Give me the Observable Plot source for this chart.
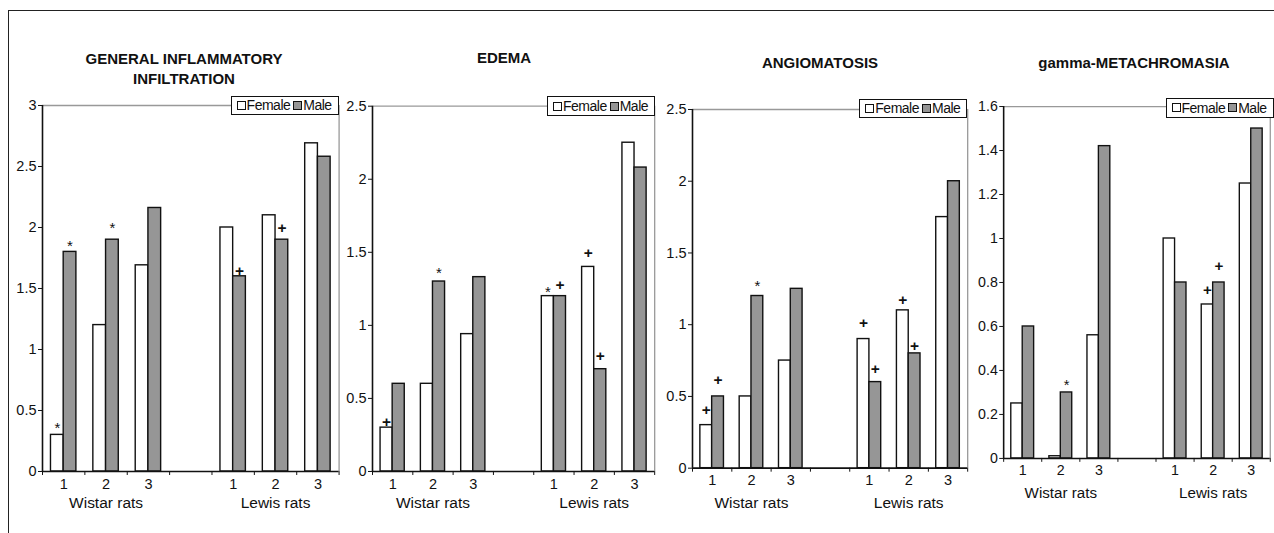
<!DOCTYPE html>
<html><head><meta charset="utf-8">
<script src="https://cdn.jsdelivr.net/npm/d3@7"></script>
<script src="https://cdn.jsdelivr.net/npm/@observablehq/plot@0.6"></script>
<style>
html,body{margin:0;padding:0;background:#fff;overflow:hidden;}
#fig{position:relative;width:1274px;height:533px;overflow:hidden;font-family:"Liberation Sans",Arial,sans-serif;color:#111;}
.frame{position:absolute;left:8px;top:10px;width:1300px;height:600px;border-top:1.5px solid #222;border-left:1.5px solid #222;}
.title{position:absolute;font-weight:bold;font-size:15px;text-align:center;line-height:20px;transform:translateX(-50%);white-space:nowrap;}
.legend{position:absolute;box-sizing:border-box;height:19.5px;border:1.6px solid #111;background:#fff;font-size:14px;letter-spacing:-0.5px;line-height:16px;white-space:nowrap;padding:0 3px 0 5px;display:flex;align-items:center;}
.sw{display:inline-block;box-sizing:border-box;width:9px;height:9px;border:1.3px solid #111;margin-right:1px;}
.panel{position:absolute;top:0;}
</style></head><body><div id="fig"><div class="frame"></div></div>
<script>
// ---------- data ----------
const slots = ["1","2","3","","1","2","3"];
const slotStrain = ["Wistar rats","Wistar rats","Wistar rats","","Lewis rats","Lewis rats","Lewis rats"];
const strains = ["Wistar rats","Lewis rats"];
const sexes = ["Female","Male"];
const titles = [["GENERAL INFLAMMATORY","INFILTRATION"],["EDEMA"],["ANGIOMATOSIS"],["gamma-METACHROMASIA"]];

const femaleGII   = [0.30,1.20,1.69,null,2.00,2.10,2.69];
const maleGII     = [1.80,1.90,2.16,null,1.60,1.90,2.58];
const femaleEdema = [0.30,0.60,0.94,null,1.20,1.40,2.25];
const maleEdema   = [0.60,1.30,1.33,null,1.20,0.70,2.08];
const femaleAngio = [0.30,0.50,0.75,null,0.90,1.10,1.75];
const maleAngio   = [0.50,1.20,1.25,null,0.60,0.80,2.00];
const femaleGamma = [0.25,0.01,0.56,null,1.00,0.70,1.25];
const maleGamma   = [0.60,0.30,1.42,null,0.80,0.80,1.50];

const ticksGII   = [0,0.5,1,1.5,2,2.5,3];
const ticksEdema = [0,0.5,1,1.5,2,2.5];
const ticksAngio = [0,0.5,1,1.5,2,2.5];
const ticksGamma = [0,0.2,0.4,0.6,0.8,1,1.2,1.4,1.6];

// significance symbols: [slot index, sex, symbol, level]
const signifGII   = [[0,"Female","*",0.39],[0,"Male","*",1.88],[1,"Male","*",2.03],[4,"Male","+",1.65],[5,"Male","+",2.00]];
const signifEdema = [[0,"Female","+",0.345],[1,"Male","*",1.39],[4,"Female","*",1.26],[4,"Male","+",1.28],[5,"Female","+",1.50],[5,"Male","+",0.80]];
const signifAngio = [[0,"Female","+",0.41],[0,"Male","+",0.62],[1,"Male","*",1.30],[4,"Female","+",1.02],[4,"Male","+",0.70],[5,"Female","+",1.18],[5,"Male","+",0.86]];
const signifGamma = [[1,"Male","*",0.353],[5,"Female","+",0.768],[5,"Male","+",0.879]];

// ---------- layout (pixels) ----------
const panels = [
  {female: femaleGII,   male: maleGII,   ticks: ticksGII,   signif: signifGII,   title: titles[0], left: 41.7,  right: 338.3,  top: 105,   zero: 471,   titleX: 184,  titleY: 49,   legTop: 95.5},
  {female: femaleEdema, male: maleEdema, ticks: ticksEdema, signif: signifEdema, title: titles[1], left: 372.3, right: 654.5,  top: 105.7, zero: 471,   titleX: 504,  titleY: 47.5, legTop: 96.3},
  {female: femaleAngio, male: maleAngio, ticks: ticksAngio, signif: signifAngio, title: titles[2], left: 691.7, right: 966.9,  top: 109,   zero: 467.7, titleX: 820,  titleY: 52.5, legTop: 98.5},
  {female: femaleGamma, male: maleGamma, ticks: ticksGamma, signif: signifGamma, title: titles[3], left: 1004.3,right: 1276.6, top: 108.3, zero: 467.7, titleX: 1134, titleY: 52.5, legTop: 98}
];
const legendRight = [338.6, 655, 967.3, 1273.5];
const strainLabelY = 502.7;

const FONT = '"Liberation Sans", Arial, sans-serif';
const fig = document.getElementById("fig");
const offset = {Female: 0.2, Male: 0.5};
const barW = 0.3;

panels.forEach((p, k) => {
  const bars = [];
  slots.forEach((s, i) => {
    if (s === "") return;
    bars.push({i, sex: "Female", v: p.female[i]});
    bars.push({i, sex: "Male", v: p.male[i]});
  });
  const labels = slots.map((s, i) => ({i, s})).filter(d => d.s !== "");
  const strainRows = strains.map(name => {
    const idx = slotStrain.map((st, i) => st === name ? i : -1).filter(i => i >= 0);
    return {name, c: d3.mean(idx) + 0.5};
  });
  const sig = p.signif.map(([i, sex, sym, lev]) => ({x: i + offset[sex] + barW / 2, sym, lev}));
  const ymax = p.ticks[p.ticks.length - 1];
  const mL = 40, mR = 4;
  const plotW = p.right - p.left;

  const chart = Plot.plot({
    width: mL + plotW + mR,
    height: 533,
    marginLeft: mL, marginRight: mR,
    marginTop: p.top, marginBottom: 533 - p.zero,
    style: {background: "transparent", overflow: "visible", fontFamily: FONT, fontSize: "14px", color: "#000"},
    x: {domain: [0, slots.length], axis: null},
    y: {domain: [0, ymax], axis: null},
    marks: [
      Plot.ruleY([ymax], {stroke: "#999", strokeWidth: 1.3}),
      Plot.ruleX([slots.length], {stroke: "#999", strokeWidth: 1.3}),
      Plot.rectY(bars, {
        x1: d => d.i + offset[d.sex], x2: d => d.i + offset[d.sex] + barW,
        y1: 0, y2: "v",
        fill: d => d.sex === "Female" ? "#ffffff" : "#969696",
        stroke: "#111", strokeWidth: 1.4
      }),
      Plot.axisY({ticks: p.ticks, tickSize: 4, tickPadding: 2, tickFormat: d => String(d), label: null, fontSize: 14.5, stroke: "#111", fill: "#111"}),
      Plot.axisX({ticks: d3.range(slots.length + 1), tickSize: 4, tickFormat: () => "", label: null, stroke: "#111"}),
      Plot.ruleX([0], {stroke: "#111", strokeWidth: 1.6}),
      Plot.ruleY([0], {stroke: "#111", strokeWidth: 1.6}),
      Plot.text(labels, {x: d => d.i + 0.5, y: 0, text: "s", dy: 12.5, fontSize: 14.5, fill: "#111"}),
      Plot.text(strainRows, {x: "c", y: 0, text: "name", dy: strainLabelY - p.zero, fontSize: 15.5, fill: "#111"}),
      Plot.text(sig.filter(d => d.sym === "*"), {x: "x", y: "lev", text: "sym", dy: 4.5, fontSize: 15, fill: "#111"}),
      Plot.text(sig.filter(d => d.sym === "+"), {x: "x", y: "lev", text: "sym", dy: 1, fontSize: 15.5, fontWeight: "bold", fill: "#111"})
    ]
  });
  const wrap = document.createElement("div");
  wrap.className = "panel";
  wrap.style.left = (p.left - mL) + "px";
  wrap.appendChild(chart);
  fig.appendChild(wrap);

  const t = document.createElement("div");
  t.className = "title";
  t.style.left = p.titleX + "px";
  t.style.top = p.titleY + "px";
  t.innerHTML = p.title.join("<br>");
  fig.appendChild(t);

  const lg = document.createElement("div");
  lg.className = "legend";
  lg.style.top = p.legTop + "px";
  lg.innerHTML = sexes.map(s => `<span class="sw" style="background:${s === "Female" ? "#fff" : "#969696"}"></span><span style="margin-right:3px">${s}</span>`).join("");
  fig.appendChild(lg);
  lg.style.left = (legendRight[k] - lg.offsetWidth) + "px";
});
</script></body></html>
